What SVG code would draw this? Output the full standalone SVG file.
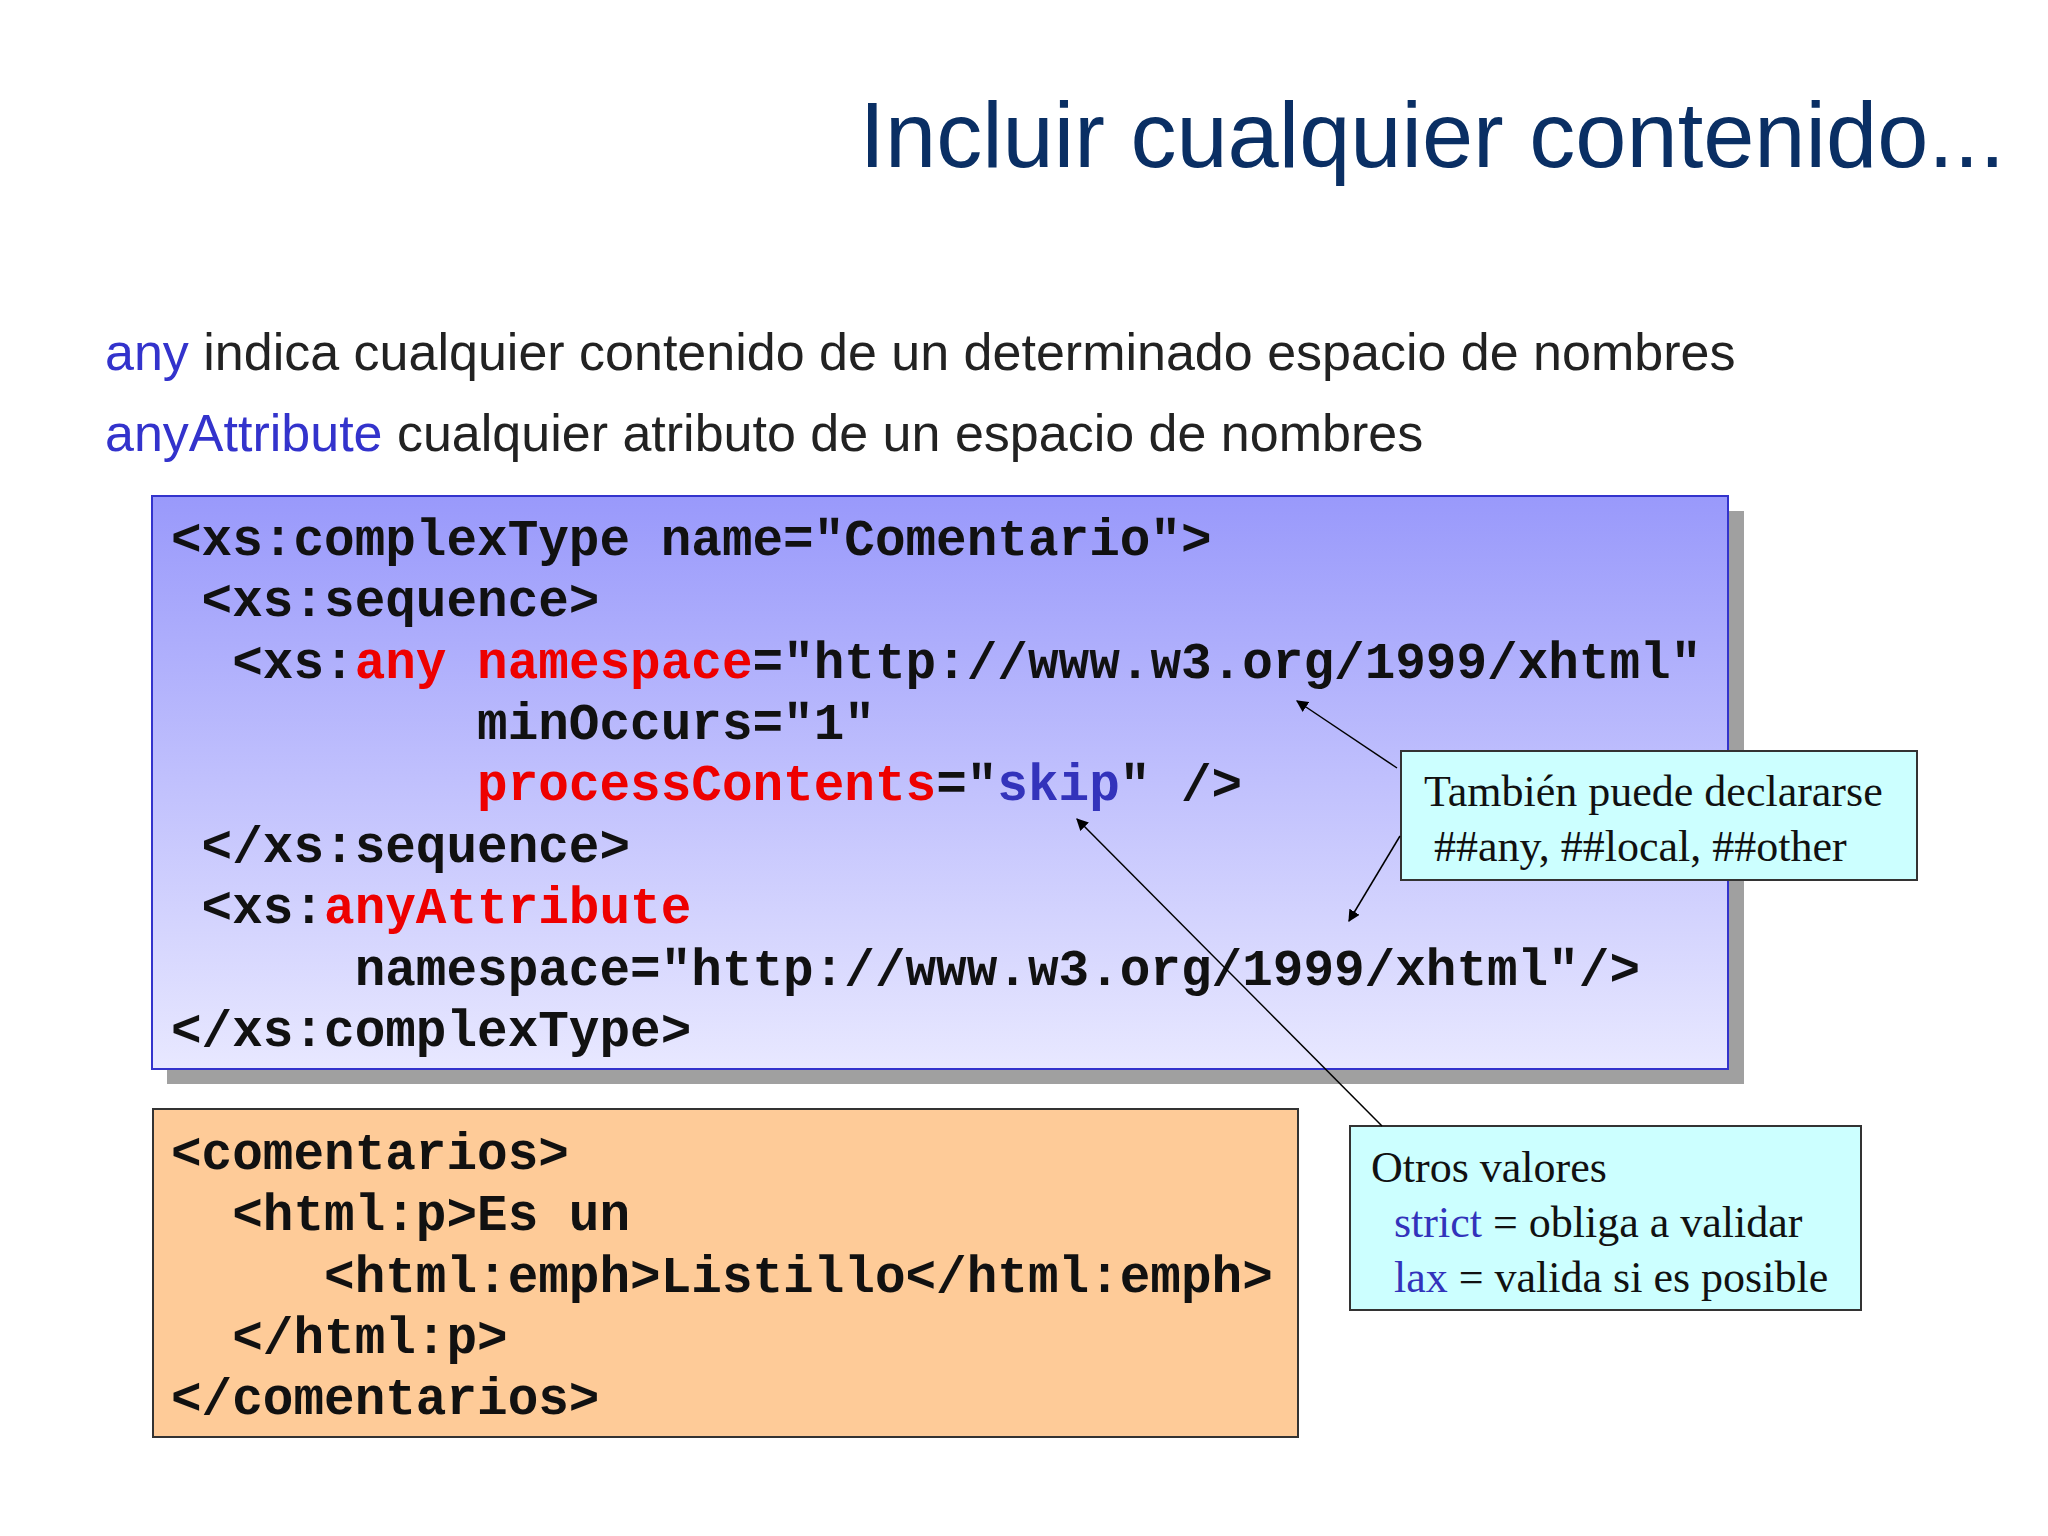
<svg xmlns="http://www.w3.org/2000/svg" width="2048" height="1536" viewBox="0 0 2048 1536">
<style>
.code{font-family:"Liberation Mono",monospace;font-weight:bold;font-size:51px;fill:#111;white-space:pre}
.r{fill:#ee0000}.b{fill:#3333bb}
.tm{font-family:"Liberation Serif",serif;font-size:44px;fill:#111}
.sans{font-family:"Liberation Sans",sans-serif}
.conn line{stroke:#000;stroke-width:1.5;marker-end:url(#ah)}
</style>
<defs>
<linearGradient id="bg" x1="0" y1="0" x2="0" y2="1"><stop offset="0" stop-color="#9999fb"/><stop offset="1" stop-color="#e8e8ff"/></linearGradient>
<marker id="ah" viewBox="0 0 10 10" refX="9" refY="5" markerWidth="12" markerHeight="12" markerUnits="userSpaceOnUse" orient="auto"><path d="M0,0 L10,5 L0,10 z" fill="#000"/></marker>
</defs>
<rect width="2048" height="1536" fill="#fff"/>
<text class="sans" x="2005" y="167" font-size="92" fill="#0a2f64" text-anchor="end">Incluir cualquier contenido...</text>
<text class="sans" x="105" y="370" font-size="52" fill="#222"><tspan fill="#3333cc">any</tspan> indica cualquier contenido de un determinado espacio de nombres</text>
<text class="sans" x="105" y="451" font-size="52" fill="#222"><tspan fill="#3333cc">anyAttribute</tspan> cualquier atributo de un espacio de nombres</text>
<g id="schema">
<rect x="167" y="511" width="1577" height="573" fill="#a0a0a0"/>
<rect x="152" y="496" width="1576" height="573" fill="url(#bg)" stroke="#3333cc" stroke-width="2"/>
<text class="code" x="171" y="555">&lt;xs:complexType name="Comentario"&gt;</text>
<text class="code" x="171" y="616"> &lt;xs:sequence&gt;</text>
<text class="code" x="171" y="678">  &lt;xs:<tspan class="r">any</tspan> <tspan class="r">namespace</tspan>="http://www.w3.org/1999/xhtml"</text>
<text class="code" x="171" y="739">          minOccurs="1"</text>
<text class="code" x="171" y="800">          <tspan class="r">processContents</tspan>="<tspan class="b">skip</tspan>" /&gt;</text>
<text class="code" x="171" y="862"> &lt;/xs:sequence&gt;</text>
<text class="code" x="171" y="923"> &lt;xs:<tspan class="r">anyAttribute</tspan></text>
<text class="code" x="171" y="985">      namespace="http://www.w3.org/1999/xhtml"/&gt;</text>
<text class="code" x="171" y="1046">&lt;/xs:complexType&gt;</text>
</g>
<g id="example">
<rect x="153" y="1109" width="1145" height="328" fill="#fecb98" stroke="#333" stroke-width="2"/>
<text class="code" x="171" y="1169">&lt;comentarios&gt;</text>
<text class="code" x="171" y="1230">  &lt;html:p&gt;Es un</text>
<text class="code" x="171" y="1292">     &lt;html:emph&gt;Listillo&lt;/html:emph&gt;</text>
<text class="code" x="171" y="1353">  &lt;/html:p&gt;</text>
<text class="code" x="171" y="1414">&lt;/comentarios&gt;</text>
</g>
<g id="note1">
<rect x="1401" y="751" width="516" height="129" fill="#ccffff" stroke="#333" stroke-width="2"/>
<text class="tm" x="1424" y="806">También puede declararse</text>
<text class="tm b" x="1434" y="861">##any, ##local, ##other</text>
</g>
<g id="note2">
<rect x="1350" y="1126" width="511" height="184" fill="#ccffff" stroke="#333" stroke-width="2"/>
<text class="tm" x="1371" y="1182">Otros valores</text>
<text class="tm" x="1394" y="1237"><tspan class="b">strict</tspan> = obliga a validar</text>
<text class="tm" x="1394" y="1292"><tspan class="b">lax</tspan> = valida si es posible</text>
</g>
<g class="conn">
<line x1="1397" y1="768" x2="1297" y2="701"/>
<line x1="1400" y1="836" x2="1349" y2="921"/>
<line x1="1382" y1="1126" x2="1077" y2="819"/>
</g>
</svg>
